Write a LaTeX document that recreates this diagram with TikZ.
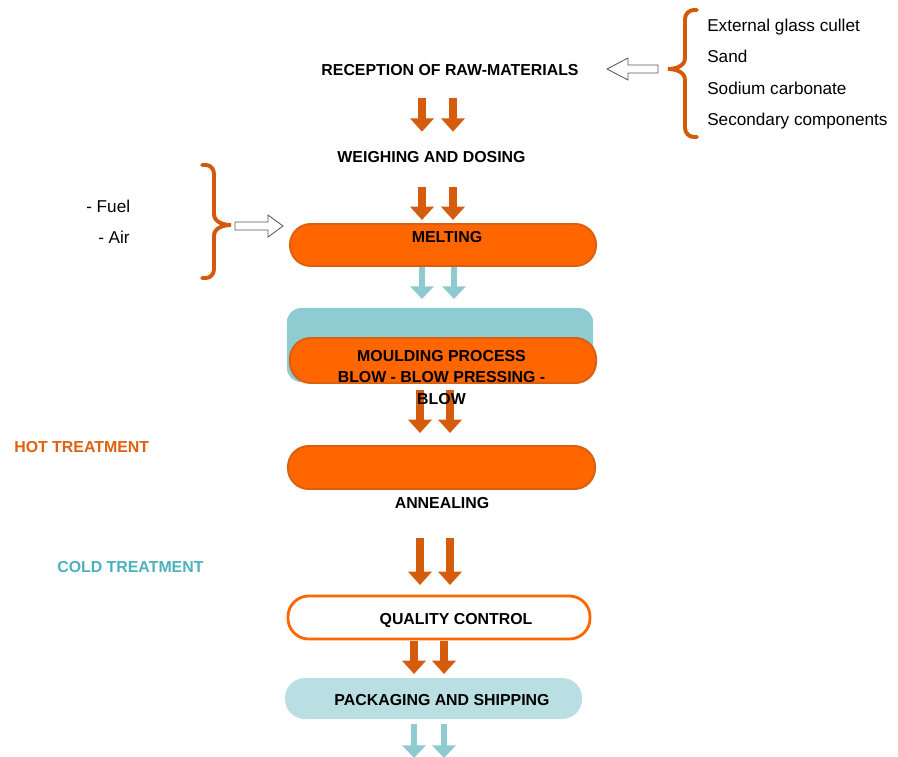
\documentclass[tikz,border=0pt]{standalone}
\usepackage{fontspec}
\setmainfont{Liberation Sans}
\usetikzlibrary{arrows.meta, positioning}

\definecolor{procorange}{HTML}{FF6600}
\definecolor{edgeorange}{HTML}{D9600F}
\definecolor{arroworange}{HTML}{D45C0C}
\definecolor{braceorange}{HTML}{D25A0A}
\definecolor{arrowblue}{HTML}{8FCAD1}
\definecolor{mouldblue}{HTML}{8FCCD2}
\definecolor{packblue}{HTML}{B9DFE3}
\definecolor{hotorange}{HTML}{E0600E}
\definecolor{coldblue}{HTML}{4DB0BE}

\begin{document}
\begin{tikzpicture}[x=0.025cm, y=-0.025cm,
  caplabel/.style={font=\fontsize{11.3}{15.3}\selectfont\bfseries, inner sep=0pt, text height=8pt, text depth=0pt},
  listtext/.style={font=\fontsize{12.2}{14}\selectfont, inner sep=0pt, text height=8.7pt, text depth=0pt, anchor=west},
  hotbox/.style={draw=edgeorange, line width=1.4pt, fill=procorange, rounded corners=0.52cm, minimum width=7.65cm, inner sep=0pt, outer sep=0pt},
  ordown/.style={draw=arroworange, line width=5pt, -{Triangle[width=16.5pt,length=9.5pt]}},
  bluedown/.style={draw=arrowblue, line width=4.6pt, -{Triangle[width=16.5pt,length=9pt]}},
  brace/.style={draw=braceorange, line width=2.8pt, line cap=round},
  hollow/.style={draw=black!65, fill=white, line width=0.6pt, line join=miter}
]
\useasboundingbox (0,0) rectangle (898,756);

% raw materials
\node[caplabel] (recep) at (450,70) {RECEPTION OF RAW-MATERIALS};
\node[listtext] (cullet) at (707,25) {External glass cullet};
\node[listtext] (sand) at (707,56) {Sand};
\node[listtext] (soda) at (707,88) {Sodium carbonate};
\node[listtext] (second) at (707,119) {Secondary components};
\coordinate (rawtip) at (668,69);
\draw[brace] (697,10) -- (694,10) to[out=180,in=90] (685,19) -- (685,58) to[out=-90,in=0] (rawtip)
  to[out=0,in=90] (685,80) -- (685,128) to[out=-90,in=180] (694,137) -- (697,137);
\draw[hollow] (658,65) -- (628,65) -- (628,58) -- (607,69) -- (628,80) -- (628,73) -- (658,73) -- cycle;

\node[caplabel] (weigh) at (431.5,157) {WEIGHING AND DOSING};

% fuel and air
\node[listtext] (fuel) at (86,206) {- Fuel};
\node[listtext] (air) at (98,237) {- Air};
\coordinate (fueltip) at (231,225);
\draw[brace] (202,165) -- (206,165) to[out=0,in=90] (214,174) -- (214,214) to[out=-90,in=180] (fueltip)
  to[out=180,in=90] (214,236) -- (214,269) to[out=-90,in=0] (206,278) -- (202,278);
\draw[hollow] (235,222) -- (268,222) -- (268,215) -- (283,226) -- (268,237) -- (268,230) -- (235,230) -- cycle;

% process boxes
\node[hotbox, minimum height=1.05cm] (melt) at (443,245) {};
\node[caplabel] (melttxt) at (447,237) {MELTING};
\node[fill=mouldblue, rounded corners=0.35cm, minimum width=7.65cm, minimum height=1.85cm, inner sep=0pt, outer sep=0pt] (mouldbg) at (440,345) {};
\node[hotbox, minimum height=1.125cm] (mould) at (443,360.5) {};
\node[hotbox, minimum width=7.675cm, minimum height=1.075cm] (anneal) at (441.5,467.5) {};
\node[caplabel] (annealtxt) at (442,503) {ANNEALING};
\node[hotbox, fill=white, draw=procorange, line width=2pt, minimum width=7.55cm, minimum height=1.075cm] (qc) at (439,617.5) {};
\node[caplabel] (qctxt) at (456,619) {QUALITY CONTROL};
\node[fill=packblue, rounded corners=0.5cm, minimum width=7.425cm, minimum height=1.025cm, inner sep=0pt, outer sep=0pt] (pack) at (433.5,698.5) {};
\node[caplabel] (packtxt) at (442,700) {PACKAGING AND SHIPPING};
\coordinate (exit) at (429,758);

\node[caplabel, anchor=west, text=hotorange] (hot) at (14,447) {HOT TREATMENT};
\node[caplabel, anchor=west, text=coldblue] (cold) at (57,567) {COLD TREATMENT};

% arrows between the steps
\draw[ordown, shorten <=0.56cm, shorten >=0.485cm] (422,0 |- recep.south) -- (422,0 |- weigh.north);
\draw[ordown, shorten <=0.56cm, shorten >=0.485cm] (453,0 |- recep.south) -- (453,0 |- weigh.north);
\draw[ordown, shorten <=0.61cm, shorten >=0.1cm] (422,0 |- weigh.south) -- (422,0 |- melt.north);
\draw[ordown, shorten <=0.61cm, shorten >=0.1cm] (453,0 |- weigh.south) -- (453,0 |- melt.north);
\draw[bluedown, shorten <=0.025cm, shorten >=0.225cm] (422,0 |- melt.south) -- (422,0 |- mouldbg.north);
\draw[bluedown, shorten <=0.025cm, shorten >=0.225cm] (454,0 |- melt.south) -- (454,0 |- mouldbg.north);
\draw[ordown, shorten <=0.175cm, shorten >=0.325cm] (420,0 |- mould.south) -- (420,0 |- anneal.north);
\draw[ordown, shorten <=0.175cm, shorten >=0.325cm] (450,0 |- mould.south) -- (450,0 |- anneal.north);
\draw[ordown, shorten <=0.735cm, shorten >=0.275cm] (420,0 |- annealtxt.south) -- (420,0 |- qc.north);
\draw[ordown, shorten <=0.735cm, shorten >=0.275cm] (450,0 |- annealtxt.south) -- (450,0 |- qc.north);
\draw[ordown, shorten <=0.05cm, shorten >=0.1cm] (414,0 |- qc.south) -- (414,0 |- pack.north);
\draw[ordown, shorten <=0.05cm, shorten >=0.1cm] (444,0 |- qc.south) -- (444,0 |- pack.north);
\draw[bluedown, shorten <=0.125cm] (414,0 |- pack.south) -- (414,0 |- exit);
\draw[bluedown, shorten <=0.125cm] (444,0 |- pack.south) -- (444,0 |- exit);

\node[font=\fontsize{11.3}{15.3}\selectfont\bfseries, inner sep=0pt, align=center] (mouldtxt) at (441.5,377.5) {MOULDING PROCESS\\BLOW - BLOW PRESSING -\\BLOW};

\end{tikzpicture}
\end{document}
